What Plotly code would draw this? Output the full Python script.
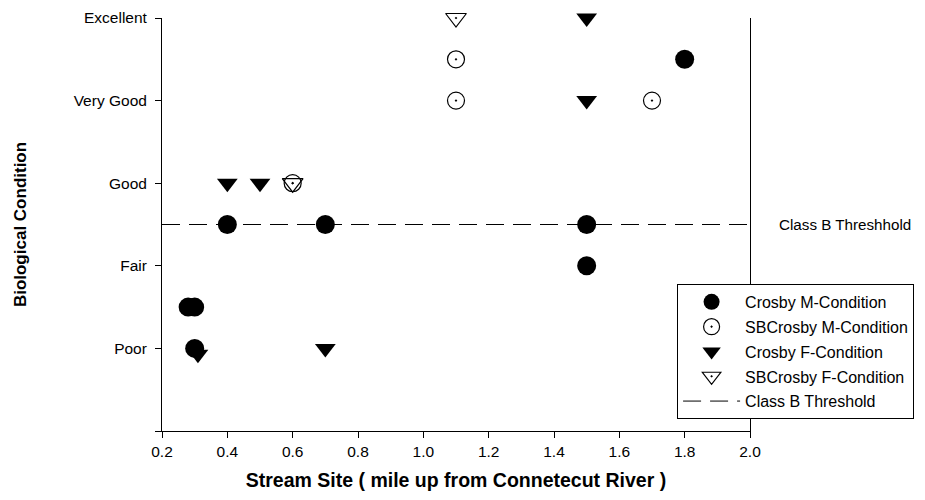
import plotly.graph_objects as go

# Biological condition score: 1=Poor ... 5=Excellent
cond_labels = ["", "Poor", "Fair", "Good", "Very Good", "Excellent"]
cond_values = [0, 1, 2, 3, 4, 5]

site_ticks = [0.2, 0.4, 0.6, 0.8, 1.0, 1.2, 1.4, 1.6, 1.8, 2.0]

crosby_m_x = [0.28, 0.30, 0.30, 0.40, 0.70, 1.50, 1.50, 1.80]
crosby_m_y = [1.5, 1.5, 1.0, 2.5, 2.5, 2.5, 2.0, 4.5]

sb_m_x = [0.60, 1.10, 1.10, 1.70]
sb_m_y = [3.0, 4.5, 4.0, 4.0]

crosby_f_x = [0.31, 0.40, 0.50, 0.70, 1.50, 1.50]
crosby_f_y = [0.93, 3.0, 3.0, 1.0, 4.0, 5.0]

sb_f_x = [0.60, 1.10]
sb_f_y = [3.0, 5.0]

threshold_x = [0.2, 2.0]
threshold_y = [2.5, 2.5]

FONT = "Liberation Sans, Arial, sans-serif"

fig = go.Figure()

fig.add_trace(go.Scatter(
    x=crosby_m_x, y=crosby_m_y, mode="markers", name="Crosby M-Condition",
    legendgroup="a", cliponaxis=False,
    marker=dict(symbol="circle", size=19, color="black")
))
fig.add_trace(go.Scatter(
    x=sb_m_x, y=sb_m_y, mode="markers", name="SBCrosby M-Condition",
    legendgroup="b", cliponaxis=False,
    marker=dict(symbol="circle-open-dot", size=17, color="black", line=dict(width=1.2))
))
fig.add_trace(go.Scatter(
    x=crosby_f_x, y=crosby_f_y, mode="markers", name="Crosby F-Condition",
    legendgroup="c", cliponaxis=False,
    marker=dict(symbol="triangle-down", size=18, color="black")
))
fig.add_trace(go.Scatter(
    x=sb_f_x, y=sb_f_y, mode="markers", name="SBCrosby F-Condition",
    legendgroup="d", cliponaxis=False,
    marker=dict(symbol="triangle-down-open-dot", size=18, color="black", line=dict(width=1.2))
))
fig.add_trace(go.Scatter(
    x=threshold_x, y=threshold_y, mode="lines", name="Class B Threshold",
    legendgroup="e",
    line=dict(color="black", width=1, dash="18px,9px")
))

fig.add_annotation(
    x=1.0, xref="paper", y=2.5, yref="y", xanchor="left", xshift=27,
    text="Class B Threshhold", showarrow=False,
    font=dict(family=FONT, size=15.2, color="black")
)

fig.update_xaxes(
    range=[0.2, 2.0], automargin=False,
    tickvals=site_ticks,
    ticktext=[f"{v:.1f}" for v in site_ticks],
    showline=True, linecolor="black", linewidth=1,
    ticks="outside", ticklen=6, tickcolor="black",
    showgrid=False, zeroline=False,
    title=dict(text="<b>Stream Site ( mile up from Connetecut River )</b>",
               font=dict(family=FONT, size=19.5), standoff=14),
    tickfont=dict(family=FONT, size=15.5, color="black"),
)
fig.update_yaxes(
    range=[0, 5], automargin=False,
    tickvals=cond_values, ticktext=cond_labels,
    showline=True, linecolor="black", linewidth=1, mirror=True,
    ticks="outside", ticklen=6, tickcolor="black",
    ticklabelstandoff=5,
    showgrid=False, zeroline=False,
    title=dict(text="<b>Biological Condition</b>",
               font=dict(family=FONT, size=17), standoff=42),
    tickfont=dict(family=FONT, size=15.5, color="black"),
)

fig.update_layout(
    width=917, height=492,
    margin=dict(l=154, r=175, t=10, b=69),
    plot_bgcolor="white", paper_bgcolor="white",
    font=dict(family=FONT, color="black"),
    legend=dict(
        x=0.876, y=0.356, xanchor="left", yanchor="top",
        bgcolor="white", bordercolor="black", borderwidth=1,
        font=dict(family=FONT, size=16, color="black"),
        itemwidth=57, tracegroupgap=1,
    ),
)

fig.write_html("out.html")
